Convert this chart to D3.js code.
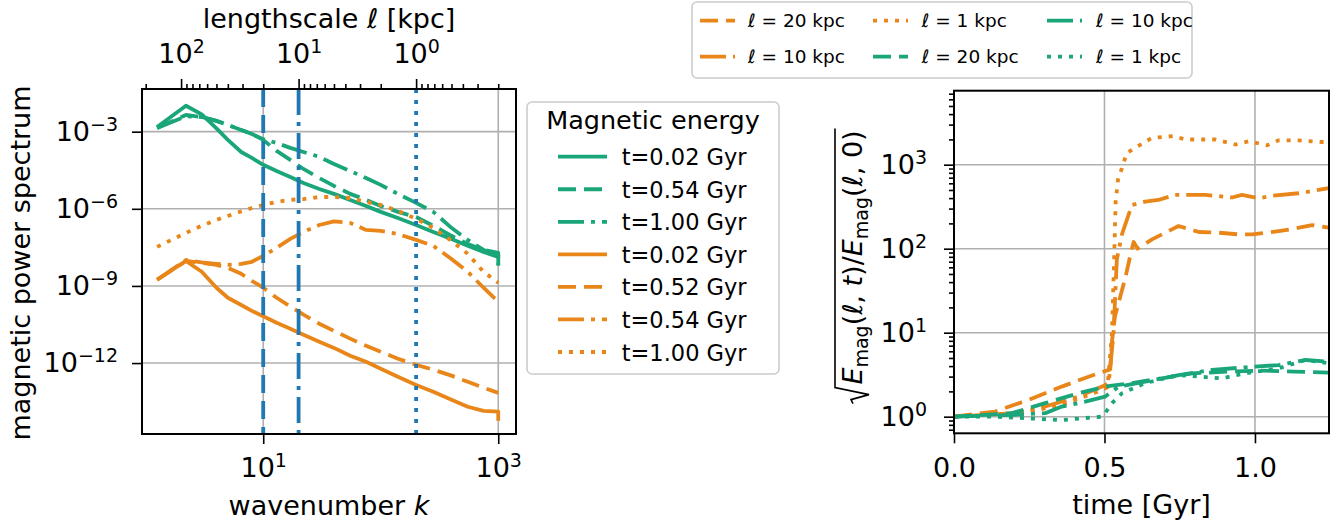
<!DOCTYPE html>
<html>
<head>
<meta charset="utf-8">
<script src="https://cdn.jsdelivr.net/npm/d3@7"></script>
<style>
  body { margin: 0; background: #fff; }
  text { font-family: "DejaVu Sans", sans-serif; fill: #000; }
</style>
</head>
<body>
<div id="chart"></div>
<script>
// ---- data: left panel (power spectrum vs wavenumber) ----
var kGrid = [1.25, 2.2, 3, 4, 5, 6.5, 8, 10, 13, 17, 22, 30, 40, 55, 75, 100, 140, 200, 280, 400, 550, 750, 1000];
var kGridEnd = kGrid.concat([1000]); // last sample drops at k=1000

var greenT002 = [1.51e-3, 1.02e-2, 4.68e-3, 1.35e-3, 4.79e-4, 1.62e-4, 9.55e-5, 5.13e-5, 2.95e-5, 1.74e-5, 1.0e-5, 5.89e-6,
  3.80e-6, 2.19e-6, 1.29e-6, 7.59e-7, 4.37e-7, 2.34e-7, 1.26e-7, 6.76e-8, 3.63e-8, 2.09e-8, 1.35e-8, 6.61e-9];
var greenT054 = [1.38e-3, 4.47e-3, 3.72e-3, 2.63e-3, 1.82e-3, 1.17e-3, 8.13e-4, 4.79e-4, 1.78e-4, 7.94e-5, 3.55e-5, 1.58e-5,
  7.76e-6, 3.80e-6, 2.24e-6, 1.29e-6, 7.59e-7, 4.79e-7, 2.19e-7, 8.91e-8, 4.27e-8, 2.51e-8, 1.95e-8, 6.03e-9];
var greenT100 = [1.38e-3, 3.98e-3, 3.72e-3, 2.63e-3, 1.82e-3, 1.17e-3, 8.13e-4, 5.13e-4, 3.63e-4, 2.34e-4, 1.62e-4, 1.05e-4,
  5.50e-5, 2.95e-5, 1.58e-5, 8.51e-6, 3.80e-6, 1.70e-6, 7.59e-7, 1.82e-7, 6.17e-8, 2.51e-8, 1.62e-8, 6.03e-9];
var orangeT002 = [1.74e-9, 9.33e-9, 3.55e-9, 8.51e-10, 3.47e-10, 1.82e-10, 1.07e-10, 6.61e-11, 3.72e-11, 2.14e-11, 1.26e-11, 6.76e-12,
  3.89e-12, 1.91e-12, 1.12e-12, 6.03e-13, 2.95e-13, 1.41e-13, 7.59e-14, 3.72e-14, 2.0e-14, 1.38e-14, 1.29e-14, 5.75e-15];
var orangeT052 = [1.74e-9, 9.33e-9, 7.94e-9, 6.61e-9, 5.01e-9, 2.95e-9, 1.58e-9, 8.51e-10, 3.47e-10, 1.58e-10, 7.59e-11, 3.39e-11,
  1.78e-11, 8.91e-12, 4.68e-12, 2.75e-12, 1.48e-12, 8.51e-13, 5.50e-13, 3.24e-13, 1.86e-13, 1.10e-13, 6.92e-14];
var orangeT054 = [1.74e-9, 1.02e-8, 8.32e-9, 7.24e-9, 6.61e-9, 7.24e-9, 8.71e-9, 1.48e-8, 3.02e-8, 6.76e-8, 1.26e-7, 2.34e-7,
  3.24e-7, 2.82e-7, 1.51e-7, 1.38e-7, 1.05e-7, 6.17e-8, 3.63e-8, 1.12e-8, 3.55e-9, 8.51e-10, 2.40e-10];
var orangeT100 = [3.31e-8, 1.15e-7, 2.19e-7, 3.72e-7, 5.25e-7, 7.94e-7, 1.07e-6, 1.41e-6, 1.86e-6, 2.24e-6, 2.40e-6, 2.88e-6,
  2.88e-6, 2.63e-6, 1.86e-6, 1.41e-6, 8.32e-7, 4.07e-7, 1.82e-7, 5.62e-8, 1.78e-8, 3.55e-9, 1.32e-9];

var legendLabels = ["t=0.02 Gyr", "t=0.54 Gyr", "t=1.00 Gyr", "t=0.02 Gyr", "t=0.52 Gyr", "t=0.54 Gyr", "t=1.00 Gyr"];

// marker wavenumbers for l = 20, 10, 1 kpc (l = 200 / k)
var markerK = [10, 20, 200];

// ---- data: right panel (growth vs time) ----
var timeO20 = [0, 0.136, 0.247, 0.358, 0.447, 0.519, 0.525, 0.535, 0.569, 0.591, 0.597, 0.61, 0.64, 0.658, 0.724, 0.746, 0.813, 0.879, 0.946, 0.99, 1.079, 1.12, 1.19, 1.245];
var growthO20 = [1, 1.15, 1.58, 2.28, 2.99, 3.66, 7.94, 15.8, 44.7, 100, 120, 100, 117, 129, 170, 186, 158, 155, 148, 148, 162, 170, 191, 178];
var timeO10 = [0, 0.192, 0.303, 0.414, 0.492, 0.514, 0.530, 0.541, 0.558, 0.591, 0.635, 0.679, 0.735, 0.835, 0.924, 0.957, 1.012, 1.06, 1.145, 1.245];
var growthO10 = [1, 1.10, 1.32, 1.73, 2.28, 2.51, 9.77, 74.1, 148, 331, 363, 380, 437, 437, 407, 437, 398, 427, 457, 525];
var timeO1 = [0, 0.2, 0.35, 0.48, 0.51, 0.525, 0.533, 0.537, 0.545, 0.558, 0.574, 0.602, 0.658, 0.73, 0.77, 0.868, 0.935, 0.98, 1.04, 1.079, 1.145, 1.223, 1.245];
var growthO1 = [1, 1.07, 1.35, 2.0, 2.24, 10, 100, 355, 661, 912, 1380, 1585, 2089, 2188, 1995, 1995, 1738, 1905, 1698, 1950, 1950, 1862, 1862];
var timeG20 = [0, 0.192, 0.303, 0.414, 0.502, 0.59, 0.69, 0.79, 0.913, 1.023, 1.13, 1.245];
var growthG20 = [1, 1.10, 1.45, 1.90, 2.28, 2.51, 2.86, 3.28, 3.44, 3.53, 3.44, 3.34];
var timeG10 = [0, 0.19, 0.303, 0.358, 0.436, 0.502, 0.547, 0.635, 0.746, 0.857, 0.968, 1.079, 1.168, 1.245];
var growthG10 = [1, 1.05, 1.10, 1.32, 1.51, 1.73, 2.28, 2.61, 3.13, 3.60, 3.87, 4.12, 4.73, 4.52];
var timeG1 = [0, 0.136, 0.247, 0.358, 0.491, 0.502, 0.525, 0.558, 0.635, 0.746, 0.89, 0.968, 1.079, 1.168, 1.245];
var growthG1 = [1, 1, 0.955, 0.912, 1, 1.10, 1.45, 1.90, 2.51, 3.13, 2.86, 3.28, 3.76, 4.73, 4.32];

var topLegendLabels = ["20", "10", "1", "20", "10", "1"];

// ---- styles ----
var green = "#1aa67a", orange = "#e9861a", blue = "#1f77b4", gridColor = "#b0b0b0";
var dash = { solid: null, dashed: "18,8", dashdot: "26,7,4,7", dotted: "4,7" };
var lw = 3.8;

var svg = d3.select("#chart").append("svg")
  .attr("width", 1344)
  .attr("height", 527);

function supLabels(axisG, fontSize) {
  axisG.selectAll(".tick text").each(function(d) {
    var e = Math.round(Math.log10(d));
    var t = d3.select(this).text(null).attr("font-size", fontSize);
    t.append("tspan").text("10");
    t.append("tspan").attr("font-size", 19).attr("dy", -10).text(String(e).replace("-", "\u2212"));
  });
}
function styleAxis(g) {
  g.select(".domain").remove();
  g.selectAll(".tick line").attr("stroke", "#000").attr("stroke-width", 1.6);
  g.attr("font-family", null);
}

// =================== left panel ===================
var L = { left: 142, right: 516, top: 89, bottom: 434 };
var xK = d3.scaleLog().domain([0.93, 1416]).range([L.left, L.right]);
var xEll = d3.scaleLog().domain([200 / 0.93, 200 / 1416]).range([L.left, L.right]);
var yP = d3.scaleLog().domain([1.74e-15, 4.57e-2]).range([L.bottom, L.top]);

svg.append("clipPath").attr("id", "clipL").append("rect")
  .attr("x", L.left).attr("y", L.top).attr("width", L.right - L.left).attr("height", L.bottom - L.top);

var gL = svg.append("g");
// grid
gL.selectAll(".hgrid").data([1e-3, 1e-6, 1e-9, 1e-12]).enter().append("line")
  .attr("x1", L.left).attr("x2", L.right).attr("y1", d => yP(d)).attr("y2", d => yP(d))
  .attr("stroke", gridColor).attr("stroke-width", 1.6);
gL.selectAll(".vgrid").data([10, 1000]).enter().append("line")
  .attr("y1", L.top).attr("y2", L.bottom).attr("x1", d => xK(d)).attr("x2", d => xK(d))
  .attr("stroke", gridColor).attr("stroke-width", 1.6);

var spectra = [
  { k: kGridEnd, v: greenT002, color: green, dash: "solid" },
  { k: kGridEnd, v: greenT054, color: green, dash: "dashed" },
  { k: kGridEnd, v: greenT100, color: green, dash: "dashdot" },
  { k: kGridEnd, v: orangeT002, color: orange, dash: "solid" },
  { k: kGrid, v: orangeT052, color: orange, dash: "dashed" },
  { k: kGrid, v: orangeT054, color: orange, dash: "dashdot" },
  { k: kGrid, v: orangeT100, color: orange, dash: "dotted" }
];

var curvesL = gL.append("g").attr("clip-path", "url(#clipL)");
spectra.forEach(function(s) {
  var line = d3.line().x((d, i) => xK(s.k[i])).y(d => yP(d));
  curvesL.append("path").attr("d", line(s.v))
    .attr("fill", "none").attr("stroke", s.color).attr("stroke-width", lw)
    .attr("stroke-linejoin", "round").attr("stroke-dasharray", dash[s.dash]);
});

// vertical markers
var markerDash = ["dashed", "dashdot", "dotted"];
curvesL.selectAll(".marker").data(markerK).enter().append("line")
  .attr("x1", d => xK(d)).attr("x2", d => xK(d)).attr("y1", L.top).attr("y2", L.bottom)
  .attr("stroke", blue).attr("stroke-width", lw)
  .attr("stroke-dasharray", (d, i) => dash[markerDash[i]]);

// frame
gL.append("rect").attr("x", L.left).attr("y", L.top).attr("width", L.right - L.left).attr("height", L.bottom - L.top)
  .attr("fill", "none").attr("stroke", "#000").attr("stroke-width", 2);

// axes
var axB = gL.append("g").attr("transform", `translate(0,${L.bottom})`)
  .call(d3.axisBottom(xK).tickValues([10, 1000]).tickSize(10).tickPadding(14));
styleAxis(axB); supLabels(axB, 27);
var axLft = gL.append("g").attr("transform", `translate(${L.left},0)`)
  .call(d3.axisLeft(yP).tickValues([1e-3, 1e-6, 1e-9, 1e-12]).tickSize(10).tickPadding(14));
styleAxis(axLft); supLabels(axLft, 27);
var axT = gL.append("g").attr("transform", `translate(0,${L.top})`)
  .call(d3.axisTop(xEll).tickValues([100, 10, 1]).tickSize(10).tickPadding(16));
styleAxis(axT); supLabels(axT, 27);
var ellMinor = [200];
[10, 1, 0.1].forEach(function(dec) { for (var m = 2; m <= 9; m++) ellMinor.push(m * dec); });
var axTm = gL.append("g").attr("transform", `translate(0,${L.top})`)
  .call(d3.axisTop(xEll).tickValues(ellMinor.filter(d => d > 0.1412)).tickSize(5).tickFormat(""));
styleAxis(axTm);

// labels
var xl = gL.append("text").attr("x", (L.left + L.right) / 2).attr("y", 515).attr("text-anchor", "middle").attr("font-size", 27);
xl.append("tspan").text("wavenumber ");
xl.append("tspan").attr("font-style", "italic").text("k");
var tl = gL.append("text").attr("x", (L.left + L.right) / 2).attr("y", 28).attr("text-anchor", "middle").attr("font-size", 27);
tl.append("tspan").text("lengthscale ");
tl.append("tspan").attr("font-style", "italic").text("\u2113");
tl.append("tspan").text(" [kpc]");
gL.append("text").attr("transform", "translate(30,263) rotate(-90)").attr("text-anchor", "middle")
  .attr("font-size", 27).text("magnetic power spectrum");

// legend
var lg = svg.append("g");
lg.append("rect").attr("x", 527).attr("y", 102).attr("width", 252).attr("height", 272).attr("rx", 5)
  .attr("fill", "#fff").attr("stroke", "#cccccc").attr("stroke-width", 1.6);
lg.append("text").attr("x", 653).attr("y", 129).attr("text-anchor", "middle").attr("font-size", 25.5).text("Magnetic energy");
spectra.forEach(function(s, i) {
  var y = 156.7 + i * 32.55;
  lg.append("line").attr("x1", 558).attr("x2", 607).attr("y1", y).attr("y2", y)
    .attr("stroke", s.color).attr("stroke-width", lw).attr("stroke-dasharray", dash[s.dash]);
  lg.append("text").attr("x", 621.7).attr("y", y + 8.5).attr("font-size", 22.5).text(legendLabels[i]);
});

// =================== right panel ===================
var R = { left: 954, right: 1329, top: 90.7, bottom: 433.3 };
var xT = d3.scaleLinear().domain([0, 1.246]).range([R.left, R.right]);
var yR = d3.scaleLog().domain([0.634, 7600]).range([R.bottom, R.top]);

svg.append("clipPath").attr("id", "clipR").append("rect")
  .attr("x", R.left).attr("y", R.top).attr("width", R.right - R.left).attr("height", R.bottom - R.top);

var gR = svg.append("g");
gR.selectAll(".hgrid").data([1, 10, 100, 1000]).enter().append("line")
  .attr("x1", R.left).attr("x2", R.right).attr("y1", d => yR(d)).attr("y2", d => yR(d))
  .attr("stroke", gridColor).attr("stroke-width", 1.6);
gR.selectAll(".vgrid").data([0, 0.5, 1.0]).enter().append("line")
  .attr("y1", R.top).attr("y2", R.bottom).attr("x1", d => xT(d)).attr("x2", d => xT(d))
  .attr("stroke", gridColor).attr("stroke-width", 1.6);

var growth = [
  { t: timeO20, v: growthO20, color: orange, dash: "dashed" },
  { t: timeO10, v: growthO10, color: orange, dash: "dashdot" },
  { t: timeO1, v: growthO1, color: orange, dash: "dotted" },
  { t: timeG20, v: growthG20, color: green, dash: "dashed" },
  { t: timeG10, v: growthG10, color: green, dash: "dashdot" },
  { t: timeG1, v: growthG1, color: green, dash: "dotted" }
];
var curvesR = gR.append("g").attr("clip-path", "url(#clipR)");
growth.forEach(function(s) {
  var line = d3.line().x((d, i) => xT(s.t[i])).y(d => yR(d));
  curvesR.append("path").attr("d", line(s.v))
    .attr("fill", "none").attr("stroke", s.color).attr("stroke-width", lw)
    .attr("stroke-linejoin", "round").attr("stroke-dasharray", dash[s.dash]);
});

gR.append("rect").attr("x", R.left).attr("y", R.top).attr("width", R.right - R.left).attr("height", R.bottom - R.top)
  .attr("fill", "none").attr("stroke", "#000").attr("stroke-width", 2);

var axRB = gR.append("g").attr("transform", `translate(0,${R.bottom})`)
  .call(d3.axisBottom(xT).tickValues([0, 0.5, 1.0]).tickFormat(d3.format(".1f")).tickSize(10).tickPadding(15));
styleAxis(axRB); axRB.selectAll(".tick text").attr("font-size", 27);
var axRL = gR.append("g").attr("transform", `translate(${R.left},0)`)
  .call(d3.axisLeft(yR).tickValues([1, 10, 100, 1000]).tickSize(10).tickPadding(17));
styleAxis(axRL); supLabels(axRL, 27);
var growthMinor = [0.7, 0.8, 0.9];
[1, 10, 100, 1000].forEach(function(dec) { for (var m = 2; m <= 9; m++) growthMinor.push(m * dec); });
var axRLm = gR.append("g").attr("transform", `translate(${R.left},0)`)
  .call(d3.axisLeft(yR).tickValues(growthMinor.filter(d => d < 7600)).tickSize(5).tickFormat(""));
styleAxis(axRLm);

gR.append("text").attr("x", (R.left + R.right) / 2).attr("y", 514).attr("text-anchor", "middle")
  .attr("font-size", 27).text("time [Gyr]");

// y label: sqrt(E_mag(l,t)/E_mag(l,0))
var ylab = gR.append("g").attr("transform", "translate(862,267) rotate(-90)");
var ylt = ylab.append("text").attr("font-size", 27);
var pieces = [
  { s: "E", it: true }, { s: "mag", sub: true }, { s: "(\u2113, " }, { s: "t", it: true }, { s: ")/" },
  { s: "E", it: true }, { s: "mag", sub: true }, { s: "(\u2113, 0)" }
];
var shifted = false;
pieces.forEach(function(p) {
  var ts = ylt.append("tspan").text(p.s);
  if (p.it) ts.attr("font-style", "italic");
  if (p.sub) { ts.attr("font-size", 19).attr("dy", 6); shifted = true; }
  else if (shifted) { ts.attr("dy", -6); shifted = false; }
});
var w = ylt.node().getComputedTextLength();
var radW = 19;
var u0 = -(w + radW) / 2;
ylt.attr("x", u0 + radW);
ylab.append("path")
  .attr("d", `M${u0},-9 L${u0 + 4},-11 L${u0 + 9},7 L${u0 + 16},-27 L${u0 + radW + w + 2},-27`)
  .attr("fill", "none").attr("stroke", "#000").attr("stroke-width", 1.6).attr("stroke-linejoin", "miter");

// top legend (3 columns, filled column-wise)
var tlg = svg.append("g");
tlg.append("rect").attr("x", 692).attr("y", 2).attr("width", 500).attr("height", 76).attr("rx", 5)
  .attr("fill", "#fff").attr("stroke", "#cccccc").attr("stroke-width", 1.6);
var colLine = [700, 873, 1047], colText = [748, 921.7, 1096], rowY = [20.7, 56.7];
growth.forEach(function(s, i) {
  var c = Math.floor(i / 2), r = i % 2, y = rowY[r];
  tlg.append("line").attr("x1", colLine[c]).attr("x2", colLine[c] + 35).attr("y1", y).attr("y2", y)
    .attr("stroke", s.color).attr("stroke-width", lw).attr("stroke-dasharray", dash[s.dash]);
  var tx = tlg.append("text").attr("x", colText[c]).attr("y", y + 6.5).attr("font-size", 18.5);
  tx.append("tspan").attr("font-style", "italic").text("\u2113");
  tx.append("tspan").text(" = " + topLegendLabels[i] + " kpc");
});
</script>
</body>
</html>
